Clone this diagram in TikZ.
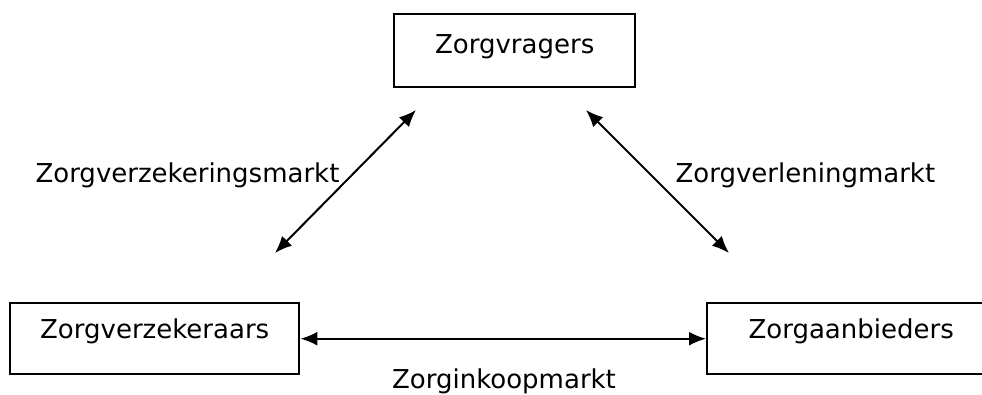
\documentclass[tikz,border=0pt]{standalone}
\usepackage{fontspec}
\setmainfont{DejaVu Sans}
\usepackage{tikz}
\usetikzlibrary{positioning,calc,arrows.meta}

\begin{document}
\begin{tikzpicture}[x=1pt, y=-1pt,
    marktbox/.style={draw, line width=2.4pt, inner sep=0pt, anchor=north west},
    marktpijl/.style={line width=2pt, {Latex[length=17pt,width=14pt]}-{Latex[length=17pt,width=14pt]}},
    every node/.style={font=\fontsize{26}{31}\selectfont}]
  \clip (0,0) rectangle (982,394);

  % 3 Actors
  \node[marktbox, minimum width=241pt, text height=39pt, text depth=34pt] (vragers) at (393,13) {Zorgvragers};
  \node[marktbox, minimum width=289pt, text height=35pt, text depth=36pt] (verzekeraars) at (9,302) {Zorgverzekeraars};
  \node[marktbox, minimum width=288pt, text height=35pt, text depth=36pt] (aanbieders) at (706,302) {Zorgaanbieders};

  % Arrow end points
  \coordinate (links boven) at (416,110);
  \coordinate (links onder) at (275,253);
  \coordinate (rechts boven) at (586,110);
  \coordinate (rechts onder) at (729,253);

  % 3 Markets
  \draw[marktpijl] (links onder) -- (links boven);
  \draw[marktpijl] (rechts boven) -- (rechts onder);
  \draw[marktpijl] (verzekeraars.east) -- (aanbieders.west);

  \node[anchor=base west] (verzekeringsmarkt) at (32,182) {Zorgverzekeringsmarkt};
  \node[anchor=base west] (verleningmarkt) at (672,182) {Zorgverleningmarkt};
  \node[anchor=base] (inkoopmarkt) at (504,388) {Zorginkoopmarkt};
\end{tikzpicture}
\end{document}
